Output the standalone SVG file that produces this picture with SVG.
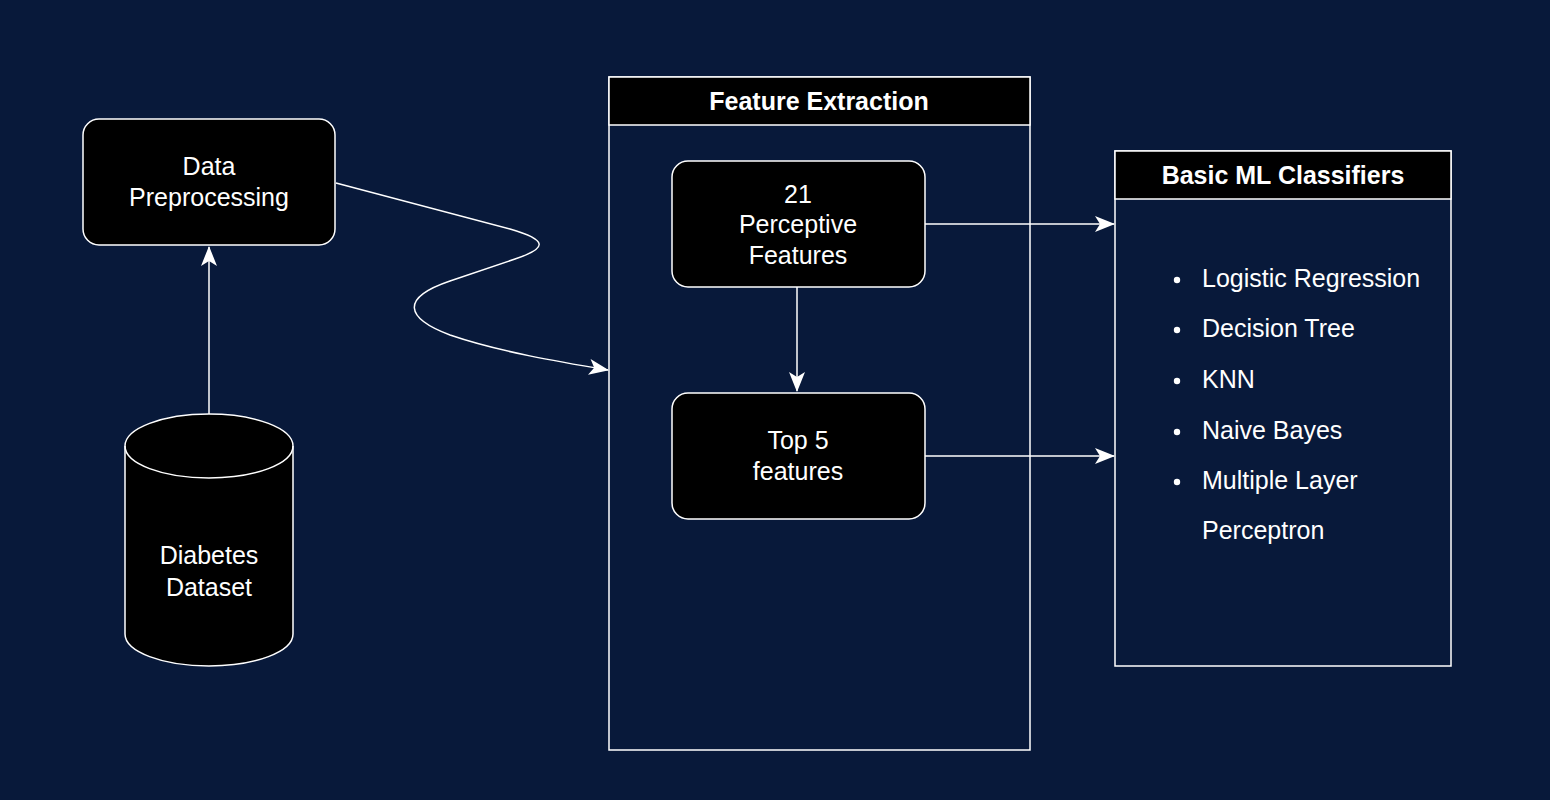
<svg xmlns="http://www.w3.org/2000/svg" width="1550" height="800" viewBox="0 0 1550 800">
<defs>
<marker id="arr" viewBox="0 0 20 20" refX="19" refY="10" markerWidth="20" markerHeight="20" markerUnits="userSpaceOnUse" orient="auto">
<path d="M0,2 L20,10 L0,18 L5,10 Z" fill="#ffffff"/>
</marker>
<style>
.node{fill:#000000;stroke:#ffffff;stroke-width:1.5}
.cont{fill:none;stroke:#ffffff;stroke-width:1.5}
.hdr{fill:#000000;stroke:#ffffff;stroke-width:1.5}
.t{font-family:"Liberation Sans",Arial,sans-serif;font-size:25px;fill:#ffffff;text-anchor:middle}
.b{font-weight:bold}
.li{font-family:"Liberation Sans",Arial,sans-serif;font-size:25px;fill:#ffffff}
.edge{fill:none;stroke:#ffffff;stroke-width:1.5;marker-end:url(#arr)}
</style>
</defs>
<rect width="1550" height="800" fill="#08193a"/>
<g id="connectors">
<path class="edge" d="M209,414 L209,247"/>
<path class="edge" d="M336,183 L510,229 C548,240 548,248 515,259 L450,281 C400,298 405,318 450,335 C500,352 560,362 608,370"/>
<path class="edge" d="M797,287 L797,391"/>
<path class="edge" d="M925,224 L1114,224"/>
<path class="edge" d="M925,456 L1114,456"/>
</g>
<g id="data-preprocessing">
<rect class="node" x="83" y="119" width="252" height="126" rx="16"/>
<text class="t" x="209" y="175">Data</text>
<text class="t" x="209" y="206">Preprocessing</text>
</g>
<g id="diabetes-dataset">
<path class="node" d="M125,446 A84,32 0 0 1 293,446 L293,634 A84,32 0 0 1 125,634 Z"/>
<path class="cont" d="M125,446 A84,32 0 0 0 293,446"/>
<text class="t" x="209" y="564">Diabetes</text>
<text class="t" x="209" y="596">Dataset</text>
</g>
<g id="feature-extraction">
<rect class="cont" x="609" y="77" width="421" height="673"/>
<rect class="hdr" x="609" y="77" width="421" height="48"/>
<text class="t b" x="819" y="110">Feature Extraction</text>
</g>
<g id="perceptive-features">
<rect class="node" x="672" y="161" width="253" height="126" rx="16"/>
<text class="t" x="798" y="203">21</text>
<text class="t" x="798" y="233">Perceptive</text>
<text class="t" x="798" y="264">Features</text>
</g>
<g id="top-features">
<rect class="node" x="672" y="393" width="253" height="126" rx="16"/>
<text class="t" x="798" y="449">Top 5</text>
<text class="t" x="798" y="480">features</text>
</g>
<g id="ml-classifiers">
<rect class="cont" x="1115" y="151" width="336" height="515"/>
<rect class="hdr" x="1115" y="151" width="336" height="48"/>
<text class="t b" x="1283" y="184">Basic ML Classifiers</text>
<g fill="#ffffff">
<circle cx="1177" cy="280" r="3.2"/>
<circle cx="1177" cy="330" r="3.2"/>
<circle cx="1177" cy="381" r="3.2"/>
<circle cx="1177" cy="432" r="3.2"/>
<circle cx="1177" cy="482" r="3.2"/>
</g>
<text class="li" x="1202" y="287">Logistic Regression</text>
<text class="li" x="1202" y="337">Decision Tree</text>
<text class="li" x="1202" y="388">KNN</text>
<text class="li" x="1202" y="439">Naive Bayes</text>
<text class="li" x="1202" y="489">Multiple Layer</text>
<text class="li" x="1202" y="539">Perceptron</text>
</g>
</svg>
